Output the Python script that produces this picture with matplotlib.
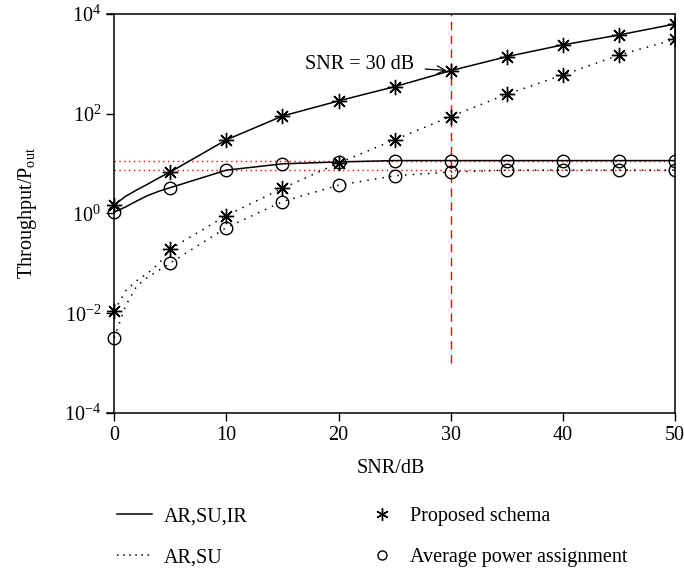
import numpy as np
import matplotlib
matplotlib.use('Agg')
import matplotlib.pyplot as plt
from matplotlib.lines import Line2D

plt.rcParams['font.family'] = ['Liberation Serif', 'DejaVu Serif']
plt.rcParams['mathtext.fontset'] = 'custom'
plt.rcParams['mathtext.rm'] = 'Liberation Serif'
plt.rcParams['mathtext.it'] = 'Liberation Serif:italic'
fs = 14.5

#
# marker points (every 5 dB)
#
snr = [0, 5, 10, 15, 20, 25, 30, 35, 40, 45, 50]
prop_irs = [1.48, 6.8, 30, 90, 181, 349, 730, 1396, 2400, 3800, 6300]
prop_su = [0.011, 0.195, 0.91, 3.2, 10.3, 30, 88, 245, 600, 1500, 3100]
avg_irs = [1.07, 3.3, 7.4, 9.9, 10.8, 11.5, 11.5, 11.5, 11.5, 11.5, 11.5]
avg_su = [0.0032, 0.102, 0.52, 1.73, 3.7, 5.7, 6.8, 7.4, 7.4, 7.4, 7.4]

#
# extra curve points at the low end (the lines bend between markers)
#
snr_low = [1, 2, 3, 4]
prop_irs_low = [2.2, 2.96, 3.9, 5.2]
prop_su_low = [0.028, 0.045, 0.064, 0.1]
avg_irs_low = [1.35, 1.78, 2.3, 2.8]
avg_su_low = [0.014, 0.035, 0.053, 0.073]

ref_hi = 11.5
ref_lo = 7.4
snr_mark = 30


def curve(x_low, y_low, x, y):
    xx = [x[0]] + x_low + x[1:]
    yy = [y[0]] + y_low + y[1:]
    return xx, yy


fig = plt.figure(figsize=(6.84, 5.69), dpi=100)
ax = fig.add_axes([0.1564, 0.2742, 0.9868 - 0.1564, 0.9754 - 0.2742])

# red reference lines
ax.plot([0, 50], [ref_hi, ref_hi], color='red', ls=(0, (1, 2.5)), lw=1.0)
ax.plot([0, 50], [ref_lo, ref_lo], color='red', ls=(0, (1, 2.5)), lw=1.0)
ax.plot([snr_mark, snr_mark], [1e-3, 1e4], color='red', ls=(0, (6, 4)), lw=1.0)

star = dict(marker=(8, 2, 0), markersize=11, markeredgewidth=1.0, color='black')
circ = dict(marker='o', markersize=9, markerfacecolor='none',
            markeredgewidth=1.0, color='black')

x, y = curve(snr_low, prop_irs_low, snr, prop_irs)
ax.plot(x, y, color='black', lw=1.1)
x, y = curve(snr_low, prop_su_low, snr, prop_su)
ax.plot(x, y, color='black', lw=1.1, ls=(0, (1, 4)))
x, y = curve(snr_low, avg_irs_low, snr, avg_irs)
ax.plot(x, y, color='black', lw=1.1)
x, y = curve(snr_low, avg_su_low, snr, avg_su)
ax.plot(x, y, color='black', lw=1.1, ls=(0, (1, 4)))

ax.plot(snr, prop_irs, ls='none', **star)
ax.plot(snr, prop_su, ls='none', **star)
ax.plot(snr, avg_irs, ls='none', **circ)
ax.plot(snr, avg_su, ls='none', **circ)

ax.annotate('SNR = 30 dB', xy=(snr_mark, prop_irs[6]), xytext=(17.0, 950),
            ha='left', va='center', fontsize=fs,
            arrowprops=dict(arrowstyle='->', color='black', lw=0.9,
                            shrinkA=6, shrinkB=3))

ax.set_yscale('log')
ax.set_xlim(-0.65, 50)
ax.set_ylim(1e-4, 1e4)
ax.set_xticks([0, 10, 20, 30, 40, 50])
ax.set_yticks([1e-4, 1e-2, 1e0, 1e2, 1e4])
ax.yaxis.set_minor_locator(matplotlib.ticker.NullLocator())
ax.spines['left'].set_position(('data', 0))
ax.tick_params(direction='out', length=6, width=1.0, labelsize=fs)
ax.tick_params(top=False, right=False)
for s in ax.spines.values():
    s.set_linewidth(1.1)

ax.set_xlabel('SNR/dB', fontsize=fs, labelpad=10)
ax.set_ylabel('Throughput/P$_{\\rm out}$', fontsize=fs)
ax.yaxis.set_label_coords(-0.12, 0.5)

handles = [
    Line2D([], [], color='black', lw=1.1),
    Line2D([], [], color='black', lw=1.1, ls=(0, (1, 3))),
    Line2D([], [], ls='none', marker=(6, 2, 0), markersize=9, color='black'),
    Line2D([], [], ls='none', marker='o', markersize=6.5, markerfacecolor='none',
           color='black'),
]
labels = ['AR,SU,IR', 'AR,SU', 'Proposed schema', 'Average power assignment']
fig.legend(handles, labels, ncol=2, frameon=False, fontsize=fs,
           loc='upper left', bbox_to_anchor=(117 / 684, 1 - 507 / 569),
           borderpad=0, borderaxespad=0,
           handlelength=1.75, columnspacing=5.8, labelspacing=1.1,
           handletextpad=0.55)

fig.savefig('out.png', dpi=100)
